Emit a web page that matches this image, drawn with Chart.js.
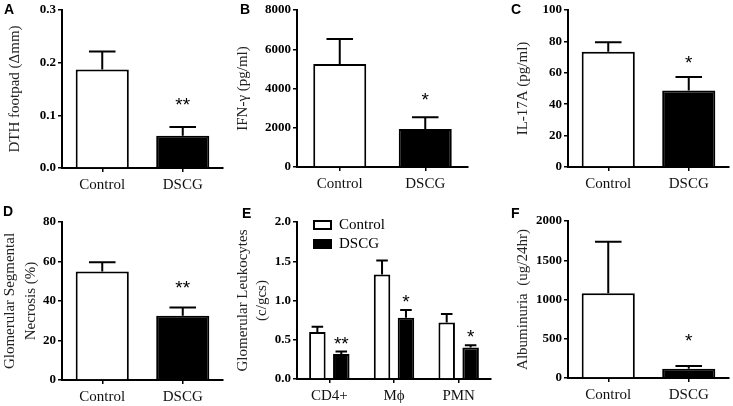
<!DOCTYPE html>
<html>
<head>
<meta charset="utf-8">
<script src="https://cdn.jsdelivr.net/npm/chart.js@4.4.0/dist/chart.umd.min.js"></script>
<style>
  body { margin: 0; background: #fff; }
  #wrap { position: relative; width: 733px; height: 406px; overflow: hidden; }
  canvas { position: absolute; }
  .tag { position: absolute; font: bold 14px "Liberation Sans", Arial, sans-serif; color: #000; }
</style>
</head>
<body>
<div id="wrap">
  <canvas id="cA" width="232" height="200" style="left:0;top:0"></canvas>
  <canvas id="cB" width="263" height="200" style="left:232px;top:0"></canvas>
  <canvas id="cC" width="238" height="200" style="left:495px;top:0"></canvas>
  <canvas id="cD" width="232" height="206" style="left:0;top:200px"></canvas>
  <canvas id="cE" width="263" height="206" style="left:232px;top:200px"></canvas>
  <canvas id="cF" width="238" height="206" style="left:495px;top:200px"></canvas>
  <div class="tag" style="left:4px;top:1px">A</div>
  <div class="tag" style="left:240px;top:1px">B</div>
  <div class="tag" style="left:511px;top:1px">C</div>
  <div class="tag" style="left:3px;top:203px">D</div>
  <div class="tag" style="left:242px;top:205px">E</div>
  <div class="tag" style="left:511px;top:205px">F</div>
</div>
<script>
// data
const groups = ['Control', 'DSCG'];
const cellTypes = ['CD4+', 'M\u03d5', 'PMN'];

const dthMean = [0.187, 0.061];
const dthSem = [0.034, 0.017];
const dthStars = ['', '**'];
const dthTicks = [0, 0.1, 0.2, 0.3];

const ifnMean = [5250, 1930];
const ifnSem = [1270, 600];
const ifnStars = ['', '*'];
const ifnTicks = [0, 2000, 4000, 6000, 8000];

const il17Mean = [73.4, 48.8];
const il17Sem = [6.0, 8.5];
const il17Stars = ['', '*'];
const il17Ticks = [0, 20, 40, 60, 80, 100];

const necrosisMean = [55.0, 32.5];
const necrosisSem = [4.6, 4.2];
const necrosisStars = ['', '**'];
const necrosisTicks = [0, 20, 40, 60, 80];

const leukControl = [0.60, 1.33, 0.72];
const leukControlSem = [0.066, 0.178, 0.107];
const leukDscg = [0.318, 0.78, 0.40];
const leukDscgSem = [0.032, 0.098, 0.029];
const leukStars = ['**', '*', '*'];
const leukTicks = [0, 0.5, 1.0, 1.5, 2.0];

const albMean = [1080, 118];
const albSem = [655, 34];
const albStars = ['', '*'];
const albTicks = [0, 500, 1000, 1500, 2000];

const SERIF = '"Liberation Serif", "Times New Roman", serif';

// error bars, stars and the small legend of panel E
const errorBars = {
    id: 'errorBars',
    afterDatasetsDraw(chart, args, opts) {
        const ctx = chart.ctx;
        const y = chart.scales.y;
        chart.data.datasets.forEach(function(ds, di) {
            const meta = chart.getDatasetMeta(di);
            meta.data.forEach(function(bar, i) {
                const top = y.getPixelForValue(ds.data[i] + ds.err[i]);
                const cap = bar.width * opts.cap / 2;
                ctx.save();
                ctx.strokeStyle = '#000';
                ctx.lineWidth = 2;
                ctx.beginPath();
                ctx.moveTo(bar.x, bar.y);
                ctx.lineTo(bar.x, top);
                ctx.moveTo(bar.x - cap, top);
                ctx.lineTo(bar.x + cap, top);
                ctx.stroke();
                if (ds.stars && ds.stars[i]) {
                    ctx.fillStyle = '#000';
                    ctx.font = '19px "Liberation Sans", Arial, sans-serif';
                    ctx.textAlign = 'center';
                    ctx.textBaseline = 'alphabetic';
                    ctx.fillText(ds.stars[i], bar.x, top - opts.gap + 11);
                }
                ctx.restore();
            });
        });
        if (opts.legend) {
            const a = chart.chartArea;
            ctx.save();
            chart.data.datasets.forEach(function(ds, di) {
                const bx = a.left + 17, by = a.top - 1 + di * 19;
                ctx.fillStyle = ds.backgroundColor;
                ctx.fillRect(bx, by, 17, 8);
                ctx.strokeStyle = '#000';
                ctx.lineWidth = 2;
                ctx.strokeRect(bx, by, 17, 8);
                ctx.fillStyle = '#000';
                ctx.font = '15px ' + SERIF;
                ctx.textAlign = 'left';
                ctx.textBaseline = 'middle';
                ctx.fillText(ds.label, bx + 25, by + 4);
            });
            ctx.restore();
        }
    }
};

function makePanel(id, labels, datasets, o) {
    return new Chart(document.getElementById(id), {
        type: 'bar',
        data: { labels: labels, datasets: datasets },
        plugins: [errorBars],
        options: {
            responsive: false,
            animation: false,
            layout: { padding: { top: o.top, right: o.right, bottom: 0, left: 0 } },
            plugins: {
                legend: { display: false },
                tooltip: { enabled: false },
                errorBars: { cap: o.cap, gap: o.gap, legend: !!o.legend }
            },
            scales: {
                x: {
                    offset: true,
                    afterFit: function(s) { s.height = o.xh; },
                    border: { color: '#000', width: 2 },
                    grid: { offset: false, drawOnChartArea: false, color: '#000', lineWidth: 1.5, tickLength: 4 },
                    ticks: { color: '#111', padding: 4, font: { family: SERIF, size: 15 } }
                },
                y: {
                    min: o.ticks[0],
                    max: o.ticks[o.ticks.length - 1],
                    afterFit: function(s) { s.width = o.yw; },
                    afterBuildTicks: function(s) { s.ticks = o.ticks.map(function(v) { return { value: v }; }); },
                    border: { color: '#000', width: 2 },
                    grid: { drawOnChartArea: false, color: '#000', lineWidth: 1.5, tickLength: 4 },
                    ticks: {
                        color: '#000',
                        padding: 2,
                        font: { family: SERIF, size: 13, weight: 'bold' },
                        callback: function(v) { return o.dec ? v.toFixed(o.dec) : String(v); }
                    },
                    title: {
                        display: true,
                        text: o.title,
                        color: '#222',
                        padding: { top: o.tp, bottom: 0 },
                        font: { family: SERIF, size: 15, lineHeight: o.lh || 1.2 }
                    }
                }
            }
        }
    });
}

function pair(mean, sem, stars, bp) {
    return [{
        data: mean,
        err: sem,
        stars: stars,
        backgroundColor: ['#fff', '#000'],
        borderColor: '#000',
        borderWidth: 2,
        barPercentage: bp,
        categoryPercentage: 1
    }];
}

makePanel('cA', groups, pair(dthMean, dthSem, dthStars, 0.66),
    { top: 10, right: 9, yw: 62, xh: 32, ticks: dthTicks, dec: 1, title: 'DTH footpad (\u0394mm)', tp: 6, cap: 0.5, gap: 27 });
makePanel('cB', groups, pair(ifnMean, ifnSem, ifnStars, 0.62),
    { top: 10, right: 27, yw: 65, xh: 33, ticks: ifnTicks, title: 'IFN-\u03b3 (pg/ml)', tp: 2, cap: 0.5, gap: 22 });
makePanel('cC', groups, pair(il17Mean, il17Sem, il17Stars, 0.66),
    { top: 10, right: 4, yw: 73, xh: 33, ticks: il17Ticks, title: 'IL-17A (pg/ml)', tp: 19, cap: 0.5, gap: 19 });
makePanel('cD', groups, pair(necrosisMean, necrosisSem, necrosisStars, 0.66),
    { top: 22, right: 9, yw: 62, xh: 26, ticks: necrosisTicks, title: ['Glomerular Segmental', 'Necrosis (%)'], tp: 0, lh: 1.4, cap: 0.5, gap: 25 });
makePanel('cE', cellTypes, [
    { label: 'Control', data: leukControl, err: leukControlSem, backgroundColor: '#fff', borderColor: '#000', borderWidth: 2, barPercentage: 0.69, categoryPercentage: 0.74 },
    { label: 'DSCG', data: leukDscg, err: leukDscgSem, stars: leukStars, backgroundColor: '#000', borderColor: '#000', borderWidth: 2, barPercentage: 0.69, categoryPercentage: 0.74 }
], { top: 22, right: 4, yw: 65, xh: 27, ticks: leukTicks, dec: 1, title: ['Glomerular Leukocytes', '(c/gcs)'], tp: 1, lh: 1.3, cap: 0.7, gap: 13, legend: true });
makePanel('cF', groups, pair(albMean, albSem, albStars, 0.66),
    { top: 21, right: 4, yw: 73, xh: 28, ticks: albTicks, title: 'Albuminuria  (ug/24hr)', tp: 19, cap: 0.5, gap: 30 });
</script>
</body>
</html>
